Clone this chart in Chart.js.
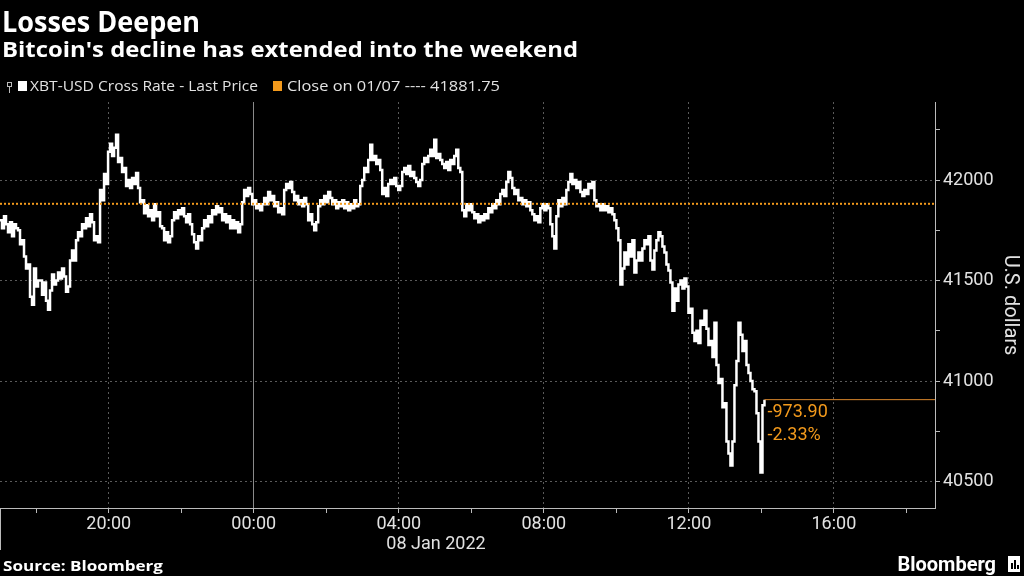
<!DOCTYPE html>
<html>
<head>
<meta charset="utf-8">
<script src="https://cdn.jsdelivr.net/npm/chart.js@4.4.1/dist/chart.umd.min.js"></script>
<style>
  html, body { margin: 0; padding: 0; background: #000; }
  #wrap { width: 1024px; height: 576px; }
</style>
</head>
<body>
<div id="wrap"><canvas id="chart" width="1024" height="576"></canvas></div>
<script>
// XBT-USD last price, sampled roughly every 3.3 minutes from 17:00 on 07 Jan
const startHour = -7;       // hours relative to 00:00 08 Jan
const stepHours = 0.0552;
const prices = [
  41800, 41760, 41820, 41780, 41740, 41790, 41720, 41780, 41760, 41750, 41680, 41700,
  41620, 41560, 41580, 41420, 41380, 41560, 41470, 41500, 41500, 41430, 41490, 41400,
  41355, 41450, 41530, 41480, 41500, 41540, 41510, 41560, 41520, 41445, 41470, 41600,
  41650, 41600, 41700, 41740, 41720, 41780, 41760, 41810, 41770, 41830, 41790, 41700,
  41720, 41690, 41950, 41900, 42030, 41980, 42140, 42180, 42120, 42160, 42225, 42090,
  42110, 42040, 42060, 41970, 42000, 41960, 42010, 41980, 42035, 41960, 41890, 41900,
  41835, 41875, 41820, 41850, 41800, 41880, 41820, 41840, 41770, 41760, 41700, 41740,
  41690, 41720, 41800, 41840, 41810, 41850, 41830, 41860, 41820, 41790, 41830, 41780,
  41730, 41690, 41660, 41720, 41700, 41760, 41800, 41770, 41820, 41790, 41850, 41830,
  41870, 41840, 41860, 41800, 41830, 41790, 41820, 41760, 41800, 41760, 41790, 41740,
  41780, 41890, 41950, 41920, 41960, 41930, 41880, 41900, 41860, 41880, 41850, 41880,
  41910, 41880, 41940, 41900, 41920, 41870, 41890, 41840, 41860, 41830, 41950, 41980,
  41960, 41990, 41940, 41900, 41920, 41880, 41900, 41870, 41910, 41880, 41800, 41830,
  41780, 41750, 41790, 41870, 41900, 41880, 41920, 41890, 41940, 41910, 41880, 41900,
  41860, 41890, 41870, 41900, 41860, 41890, 41850, 41880, 41860, 41900, 41870, 41880,
  41970, 42000, 42060, 42040, 42100, 42175, 42100, 42120, 42080, 42100, 42050, 41930,
  41960, 41920, 41980, 42000, 41980, 42010, 41970, 41950, 41970, 42040, 42060, 42030,
  42070, 42020, 42040, 42010, 41990, 41970, 42000, 42080, 42110, 42090, 42120, 42150,
  42120, 42200, 42110, 42130, 42100, 42080, 42060, 42090, 42050, 42100, 42080, 42120,
  42150, 42060, 42040, 41850, 41820, 41880, 41850, 41880, 41840, 41810, 41830, 41790,
  41820, 41800, 41830, 41810, 41860, 41840, 41880, 41860, 41900, 41880, 41930, 41950,
  41920, 41990, 42040, 42010, 41960, 41930, 41950, 41900, 41910, 41880, 41900, 41870,
  41890, 41850, 41830, 41800, 41820, 41790, 41860, 41880, 41850, 41880, 41860, 41780,
  41720, 41660, 41820, 41900, 41870, 41910, 41880, 41950, 41990, 42030, 41980, 42000,
  41960, 41990, 41940, 41920, 41950, 41930, 41980, 41960, 41990, 41900, 41870, 41880,
  41850, 41880, 41850, 41870, 41840, 41860, 41830, 41800, 41760, 41700, 41480, 41560,
  41640, 41580, 41680, 41620, 41700, 41540, 41600, 41640, 41600, 41660, 41700, 41680,
  41720, 41600, 41555, 41650, 41700, 41740, 41720, 41670, 41640, 41580, 41550, 41490,
  41350, 41460, 41400, 41480, 41500, 41460, 41510, 41470, 41340, 41360, 41240, 41200,
  41250, 41190, 41300, 41280, 41350, 41260, 41180, 41200, 41120, 41290, 41080, 40990,
  41010, 40870, 40890, 40700, 40640, 40580, 40700, 40980, 41100, 41290, 41230, 41150,
  41200, 41080, 41040, 41000, 40960, 40950, 40840, 40700, 40545, 40880, 40907.85
];
const prevClose = 41881.75;
const xRange = [-7, 18.79];
const yRange = [40369, 42388];
const xTicks = [-6, -4, -2, 0, 2, 4, 6, 8, 10, 12, 14, 16, 18];
const yTicks = [40500, 40750, 41000, 41250, 41500, 41750, 42000, 42250];

const times = prices.map((_, i) => +(startHour + i * stepHours).toFixed(4));
const lastTime = times[times.length - 1];
const lastPrice = prices[prices.length - 1];
const change = lastPrice - prevClose;
const changePct = change / prevClose * 100;

const ORANGE = "#f39a1c";
const TEXT = "#e2e2e2";
const FONT = "Roboto";
const HEAD = "'Open Sans'";

function hourLabel(v) {
  const h = ((v % 24) + 24) % 24;
  return String(h).padStart(2, "0") + ":00";
}

// draw left-aligned text stretched to a given width (Bloomberg's face is wider)
function fitText(c, text, x, y, width) {
  const w = c.measureText(text).width;
  c.save();
  c.translate(x, y);
  c.scale(width / w, 1);
  c.fillText(text, 0, 0);
  c.restore();
}

const decorations = {
  id: "decorations",
  beforeDraw(chart) {
    const c = chart.ctx;
    c.save();
    c.fillStyle = "#000";
    c.fillRect(0, 0, chart.width, chart.height);
    c.restore();
  },
  afterDraw(chart) {
    const c = chart.ctx;
    const xs = chart.scales.x;
    const ys = chart.scales.y;
    c.save();
    c.textBaseline = "alphabetic";
    c.textAlign = "left";

    // headline + subtitle
    c.fillStyle = "#fff";
    c.font = `bold 29px ${HEAD}`;
    fitText(c, "Losses Deepen", 2, 32, 198);
    c.font = `bold 21px ${HEAD}`;
    fitText(c, "Bitcoin's decline has extended into the weekend", 2, 57, 576);

    // legend
    c.strokeStyle = "#bbb";
    c.lineWidth = 1;
    c.strokeRect(7.5, 82.5, 4, 4);
    c.beginPath();
    c.moveTo(9.5, 87);
    c.lineTo(9.5, 93);
    c.stroke();
    c.fillStyle = "#fff";
    c.fillRect(18, 81, 9, 10);
    c.fillStyle = ORANGE;
    c.fillRect(273, 81, 9, 10);
    c.fillStyle = TEXT;
    c.font = `15px ${HEAD}`;
    fitText(c, chart.data.datasets[2].label, 30, 91, 228);
    fitText(c, chart.data.datasets[0].label, 287, 91, 213);

    // change annotation at last price
    const ax = xs.getPixelForValue(lastTime) + 3;
    c.fillStyle = ORANGE;
    c.font = `18px ${FONT}`;
    c.fillText(change.toFixed(2), ax, 417);
    c.fillText(changePct.toFixed(2) + "%", ax, 440);

    // date row under the time axis
    c.fillStyle = TEXT;
    c.font = `18px ${FONT}`;
    c.textAlign = "center";
    c.fillText("08 Jan 2022", 436, 549);
    c.strokeStyle = "#bbb";
    c.beginPath();
    c.moveTo(0.5, ys.bottom);
    c.lineTo(0.5, 550);
    c.stroke();

    // footer
    c.textAlign = "left";
    c.fillStyle = "#fff";
    c.font = `bold 15px ${HEAD}`;
    fitText(c, "Source: Bloomberg", 3, 571, 160);
    c.textAlign = "right";
    c.font = `bold 20px ${FONT}`;
    c.fillText("Bloomberg", 996, 571, 101);
    c.fillRect(1008, 556, 12, 16);
    c.fillStyle = "#000";
    c.fillRect(1011, 563, 2, 6);
    c.fillRect(1014, 560, 2, 9);
    c.fillRect(1017, 565, 2, 4);
    c.restore();
  }
};

new Chart(document.getElementById("chart"), {
  type: "line",
  data: {
    datasets: [
      {
        label: "Close on 01/07 ---- 41881.75",
        data: [{ x: xRange[0], y: prevClose }, { x: xRange[1], y: prevClose }],
        borderColor: ORANGE,
        borderWidth: 2,
        borderDash: [2, 2],
        pointRadius: 0,
        order: 0,
      },
      {
        label: "Last price marker",
        data: [{ x: lastTime, y: lastPrice }, { x: xRange[1], y: lastPrice }],
        borderColor: "#d9862c",
        borderWidth: 1,
        pointRadius: 0,
        order: 1,
      },
      {
        label: "XBT-USD Cross Rate - Last Price",
        data: times.map((t, i) => ({ x: t, y: prices[i] })),
        borderColor: "#fff",
        borderWidth: 2.5,
        stepped: true,
        pointRadius: 0,
        order: 2,
      },
    ],
  },
  options: {
    responsive: false,
    animation: false,
    layout: { padding: { top: 102, left: 0, right: 0, bottom: 0 } },
    plugins: { legend: { display: false }, tooltip: { enabled: false } },
    scales: {
      x: {
        type: "linear",
        min: xRange[0],
        max: xRange[1],
        afterBuildTicks: (s) => { s.ticks = xTicks.map((v) => ({ value: v })); },
        afterFit: (s) => { s.height = 68; },
        ticks: {
          color: TEXT,
          font: { family: FONT, size: 18 },
          padding: 1,
          maxRotation: 0,
          autoSkip: false,
          callback: (v) => (v % 4 === 0 ? hourLabel(v) : ""),
        },
        grid: {
          color: (ctx) => {
            const v = ctx.tick ? ctx.tick.value : null;
            if (v === 0) return "#8a8a8a";
            return v !== null && v % 4 === 0 ? "#5a5a5a" : "rgba(0,0,0,0)";
          },
          tickColor: "#bbb",
          tickLength: 5,
          lineWidth: 1,
        },
        border: {
          color: "#bbb",
          dash: (ctx) => (ctx.tick && ctx.tick.value === 0 ? [] : [2, 3]),
        },
      },
      y: {
        position: "right",
        min: yRange[0],
        max: yRange[1],
        afterBuildTicks: (s) => { s.ticks = yTicks.map((v) => ({ value: v })); },
        afterFit: (s) => { s.width = 89; },
        ticks: {
          color: TEXT,
          font: { family: FONT, size: 18 },
          padding: 3,
          callback: (v) => (v % 500 === 0 ? String(v) : ""),
        },
        grid: {
          color: (ctx) => (ctx.tick && ctx.tick.value % 500 === 0 ? "#5a5a5a" : "rgba(0,0,0,0)"),
          tickColor: "#bbb",
          tickLength: 5,
          lineWidth: 1,
        },
        border: { color: "#bbb", dash: [2, 3] },
        title: {
          display: true,
          text: "U.S. dollars",
          color: TEXT,
          font: { family: FONT, size: 20 },
          padding: { top: 2, bottom: 0 },
        },
      },
    },
  },
  plugins: [decorations],
});
</script>
</body>
</html>
